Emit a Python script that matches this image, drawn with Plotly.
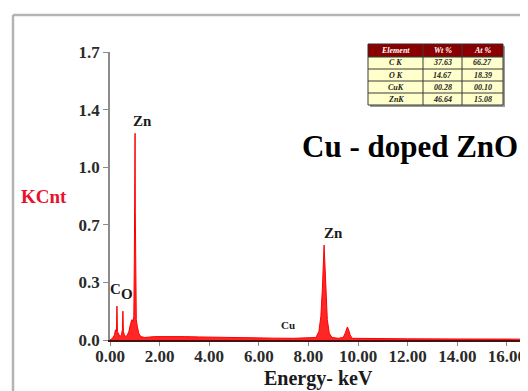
import plotly.graph_objects as go

# ---------------- data ----------------
energy_kev = [0.00, 0.10, 0.18, 0.22, 0.26, 0.28, 0.30, 0.34, 0.40, 0.46, 0.50, 0.52, 0.54,
              0.58, 0.64, 0.70, 0.76, 0.82, 0.88, 0.92, 0.96, 0.98, 1.00, 1.01, 1.02, 1.04,
              1.06, 1.10, 1.16, 1.24, 1.40, 1.80, 2.40, 3.00, 3.60, 4.20, 5.00, 5.80, 6.60,
              7.40, 8.00, 8.04, 8.10, 8.30, 8.42, 8.50, 8.56, 8.60, 8.63, 8.66, 8.70, 8.76,
              8.84, 8.95, 9.20, 9.40, 9.48, 9.54, 9.57, 9.62, 9.68, 9.76, 10.50, 12.00,
              14.00, 16.00, 16.90]
kcnt = [0.000, 0.010, 0.030, 0.060, 0.050, 0.200, 0.050, 0.040, 0.020, 0.030, 0.060, 0.170,
        0.050, 0.030, 0.020, 0.030, 0.050, 0.090, 0.120, 0.110, 0.140, 0.450, 0.760, 1.220,
        0.760, 0.300, 0.120, 0.080, 0.040, 0.020, 0.015, 0.020, 0.022, 0.020, 0.018, 0.016,
        0.013, 0.012, 0.011, 0.010, 0.012, 0.015, 0.012, 0.015, 0.050, 0.140, 0.300, 0.480,
        0.560, 0.460, 0.280, 0.120, 0.040, 0.015, 0.010, 0.015, 0.040, 0.070, 0.077, 0.060,
        0.030, 0.010, 0.008, 0.007, 0.006, 0.005, 0.005]

peak_names = ["C", "O", "Zn", "Cu", "Zn"]
peak_energy = [0.28, 0.52, 1.01, 8.04, 8.63]
peak_kcnt = [0.200, 0.170, 1.220, 0.015, 0.560]

y_tickvals = [0.0, 0.34, 0.68, 1.02, 1.36, 1.70]
y_ticktext = ["0.0", "0.3", "0.7", "1.0", "1.4", "1.7"]
x_tickvals = [0, 2, 4, 6, 8, 10, 12, 14, 16]
x_ticktext = ["0.00", "2.00", "4.00", "6.00", "8.00", "10.00", "12.00", "14.00", "16.00"]

table_header = ["Element", "Wt %", "At %"]
table_element = ["C K", "O K", "CuK", "ZnK"]
table_wt = ["37.63", "14.67", "00.28", "46.64"]
table_at = ["66.27", "18.39", "00.10", "15.08"]

# ---------------- layout helpers ----------------
OFF = 8                      # page body margin of the browser
PAGE_W, PAGE_H = 528, 391
W, H = PAGE_W - OFF, PAGE_H - OFF
# plot area in page pixels
L, R, T, B = 110, 528, 52, 340
SERIF = "Liberation Serif, Times New Roman, serif"


def px_x(px):
    return (px - L) / (R - L)


def px_y(py):
    return (B - py) / (B - T)


fig = go.Figure()
fig.add_trace(go.Scatter(
    x=energy_kev, y=kcnt, mode="lines",
    line=dict(color="#ff0000", width=1),
    fill="tozeroy", fillcolor="rgba(255,0,0,0.85)",
    hoverinfo="skip", showlegend=False,
))

annotations = []
label_shift = {0: (-1, 7), 1: (4, 7), 2: (7, 2), 3: (-21, 4), 4: (9, 2)}
for i, (nm, e, k) in enumerate(zip(peak_names, peak_energy, peak_kcnt)):
    xs, ys = label_shift[i]
    annotations.append(dict(
        x=e, y=k, xref="x", yref="y", text=nm, showarrow=False,
        xanchor="center", yanchor="bottom", xshift=xs, yshift=ys,
        font=dict(family=SERIF, size=11 if nm == "Cu" else 15, color="#1a1a1a", weight="bold"),
    ))

annotations.append(dict(x=px_x(44), y=px_y(196), xref="paper", yref="paper", text="KCnt",
                        showarrow=False, xanchor="center", yanchor="middle",
                        font=dict(family=SERIF, size=19, color="#e8112d", weight="bold")))
annotations.append(dict(x=px_x(318), y=px_y(378), xref="paper", yref="paper", text="Energy- keV",
                        showarrow=False, xanchor="center", yanchor="middle",
                        font=dict(family=SERIF, size=20, color="#1a1a1a", weight="bold")))
annotations.append(dict(x=px_x(300), y=px_y(146), xref="paper", yref="paper", text="Cu - doped ZnO",
                        showarrow=False, xanchor="left", yanchor="middle",
                        font=dict(family=SERIF, size=31, color="#000000", weight="bold")))

shapes = []
shapes.append(dict(type="line", xref="paper", yref="paper",
                   x0=px_x(13), x1=px_x(13), y0=px_y(15), y1=px_y(400),
                   line=dict(color="#b4b4b4", width=2.5)))
shapes.append(dict(type="line", xref="paper", yref="paper",
                   x0=px_x(13), x1=px_x(540), y0=px_y(15), y1=px_y(15),
                   line=dict(color="#b4b4b4", width=2.5)))

col_edges = [368, 423, 462, 503]
row_edges = [44, 57, 69, 81, 93, 105]
shapes.append(dict(type="rect", xref="paper", yref="paper",
                   x0=px_x(col_edges[0] + 2), x1=px_x(col_edges[-1] + 2),
                   y0=px_y(row_edges[0] + 2), y1=px_y(row_edges[-1] + 2),
                   line=dict(width=0), fillcolor="#9a9a9a"))
shapes.append(dict(type="rect", xref="paper", yref="paper",
                   x0=px_x(col_edges[0]), x1=px_x(col_edges[-1]),
                   y0=px_y(row_edges[0]), y1=px_y(row_edges[1]),
                   line=dict(color="#3a2a2a", width=1), fillcolor="#8a0000"))
shapes.append(dict(type="rect", xref="paper", yref="paper",
                   x0=px_x(col_edges[0]), x1=px_x(col_edges[-1]),
                   y0=px_y(row_edges[1]), y1=px_y(row_edges[-1]),
                   line=dict(color="#3a3a3a", width=1), fillcolor="#ffffcc"))
for ry in row_edges[2:-1]:
    shapes.append(dict(type="line", xref="paper", yref="paper",
                       x0=px_x(col_edges[0]), x1=px_x(col_edges[-1]), y0=px_y(ry), y1=px_y(ry),
                       line=dict(color="#3a3a3a", width=1)))
for cx in col_edges[1:-1]:
    shapes.append(dict(type="line", xref="paper", yref="paper",
                       x0=px_x(cx), x1=px_x(cx), y0=px_y(row_edges[0]), y1=px_y(row_edges[-1]),
                       line=dict(color="#3a3a3a", width=1)))

columns = [[table_header[0]] + table_element,
           [table_header[1]] + table_wt,
           [table_header[2]] + table_at]
for ci, col in enumerate(columns):
    cx = (col_edges[ci] + col_edges[ci + 1]) / 2
    for ri, txt in enumerate(col):
        cy = (row_edges[ri] + row_edges[ri + 1]) / 2
        annotations.append(dict(
            x=px_x(cx), y=px_y(cy), xref="paper", yref="paper", text=txt, showarrow=False,
            xanchor="center", yanchor="middle",
            font=dict(family=SERIF, size=8, style="italic", weight="bold",
                      color="#ffffff" if ri == 0 else "#222222"),
        ))

fig.update_layout(
    width=W, height=H,
    margin=dict(l=L - OFF, r=PAGE_W - R, t=T - OFF, b=PAGE_H - B, pad=0),
    paper_bgcolor="white", plot_bgcolor="white",
    showlegend=False,
    annotations=annotations,
    shapes=shapes,
    xaxis=dict(range=[0, 16.85], tickvals=x_tickvals, ticktext=x_ticktext,
               showgrid=False, zeroline=False, showline=True, linecolor="#4a1010", linewidth=2,
               ticks="outside", ticklen=4, tickcolor="#8c8c8c", tickwidth=1,
               ticklabelstandoff=-4,
               tickfont=dict(family=SERIF, size=17, color="#2a2a2a", weight="bold")),
    yaxis=dict(range=[0, 1.7], tickvals=y_tickvals, ticktext=y_ticktext,
               showgrid=False, zeroline=False, showline=True, linecolor="#8c8c8c", linewidth=1.5,
               ticks="outside", ticklen=5, tickcolor="#8c8c8c", tickwidth=1,
               tickfont=dict(family=SERIF, size=17, color="#2a2a2a", weight="bold")),
)

fig.write_html("out.html")
